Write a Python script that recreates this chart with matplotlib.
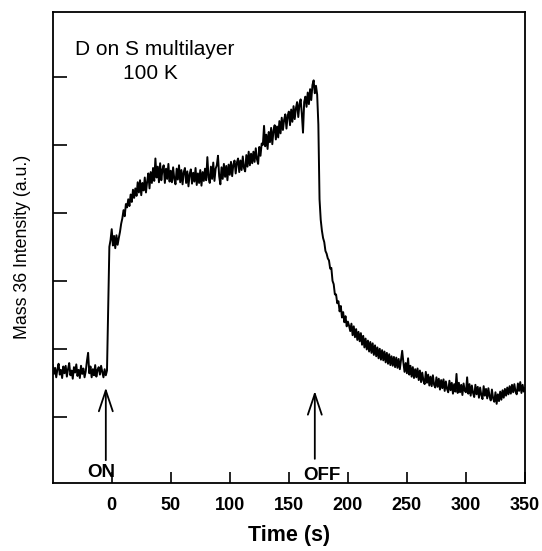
import numpy as np
import matplotlib
matplotlib.use("Agg")
import matplotlib.pyplot as plt

# Mass 36 signal, one reading per second, arbitrary units (tick spacing = 1)
time_before_on = np.arange(-50, 0)
signal_before_on = [
    1.76, 1.63, 1.72, 1.58, 1.70, 1.78, 1.62, 1.69, 1.57, 1.74,
    1.64, 1.75, 1.59, 1.70, 1.79, 1.61, 1.68, 1.56, 1.73, 1.65,
    1.77, 1.60, 1.69, 1.57, 1.75, 1.63, 1.71, 1.58, 1.67, 1.82,
    1.94, 1.64, 1.74, 1.58, 1.70, 1.61, 1.76, 1.59, 1.69, 1.73,
    1.62, 1.75, 1.66, 1.58, 1.70, 1.61, 1.68, 2.60, 3.50, 3.60,
]
time_dosing = np.arange(0, 175)
signal_dosing = [
    3.76, 3.52, 3.66, 3.48, 3.67, 3.53, 3.63, 3.72, 3.84, 3.92,
    4.04, 3.95, 4.13, 4.08, 4.20, 4.10, 4.27, 4.16, 4.34, 4.22,
    4.36, 4.25, 4.45, 4.30, 4.48, 4.26, 4.44, 4.33, 4.52, 4.30,
    4.46, 4.58, 4.36, 4.60, 4.44, 4.66, 4.47, 4.80, 4.52, 4.68,
    4.45, 4.73, 4.48, 4.64, 4.70, 4.44, 4.65, 4.50, 4.72, 4.46,
    4.62, 4.45, 4.67, 4.50, 4.42, 4.65, 4.49, 4.70, 4.45, 4.63,
    4.42, 4.60, 4.66, 4.44, 4.61, 4.39, 4.57, 4.64, 4.43, 4.59,
    4.46, 4.66, 4.41, 4.58, 4.44, 4.63, 4.40, 4.60, 4.47, 4.65,
    4.48, 4.82, 4.52, 4.44, 4.68, 4.50, 4.74, 4.47, 4.65, 4.70,
    4.84, 4.54, 4.42, 4.67, 4.50, 4.72, 4.53, 4.69, 4.48, 4.71,
    4.56, 4.75, 4.54, 4.71, 4.77, 4.58, 4.74, 4.80, 4.60, 4.77,
    4.63, 4.83, 4.66, 4.61, 4.85, 4.68, 4.90, 4.70, 4.87, 4.73,
    4.90, 4.75, 4.95, 4.79, 4.72, 4.97, 4.84, 5.02, 5.00, 5.28,
    4.98, 5.15, 4.94, 5.19, 5.04, 5.25, 5.01, 5.21, 5.29, 5.08,
    5.27, 5.11, 5.35, 5.17, 5.40, 5.22, 5.37, 5.45, 5.24, 5.43,
    5.49, 5.29, 5.52, 5.34, 5.57, 5.38, 5.54, 5.63, 5.41, 5.60,
    5.67, 5.46, 5.18, 5.63, 5.71, 5.56, 5.77, 5.60, 5.82, 5.66,
    5.88, 5.95, 5.76, 5.87, 5.74,
]
time_after_off = np.arange(175, 351)
signal_after_off = [
    5.30, 4.20, 3.90, 3.74, 3.63,
    3.57, 3.44, 3.40, 3.33, 3.30, 3.18, 3.19, 3.00, 2.95, 2.80,
    2.80, 2.67, 2.70, 2.55, 2.63, 2.46, 2.54, 2.39, 2.48, 2.33,
    2.40, 2.34, 2.26, 2.37, 2.20, 2.33, 2.17, 2.29, 2.13, 2.25,
    2.11, 2.23, 2.06, 2.19, 2.02, 2.15, 1.99, 2.12, 1.96, 2.10,
    1.94, 2.08, 1.91, 2.05, 1.89, 2.02, 1.86, 2.00, 1.84, 1.98,
    1.83, 1.96, 1.80, 1.94, 1.78, 1.92, 1.76, 1.89, 1.75, 1.88,
    1.73, 1.87, 1.72, 1.85, 1.70, 1.83, 1.97, 1.80, 1.66, 1.79,
    1.64, 1.86, 1.62, 1.75, 1.59, 1.73, 1.57, 1.70, 1.58, 1.71,
    1.54, 1.68, 1.51, 1.65, 1.53, 1.48, 1.66, 1.50, 1.62, 1.46,
    1.59, 1.45, 1.61, 1.47, 1.43, 1.58, 1.44, 1.56, 1.40, 1.54,
    1.42, 1.55, 1.38, 1.52, 1.41, 1.36, 1.53, 1.39, 1.50, 1.34,
    1.48, 1.37, 1.63, 1.35, 1.50, 1.36, 1.47, 1.32, 1.49, 1.38,
    1.36, 1.58, 1.34, 1.48, 1.31, 1.46, 1.35, 1.29, 1.47, 1.33,
    1.44, 1.28, 1.43, 1.32, 1.26, 1.45, 1.31, 1.41, 1.27, 1.42,
    1.30, 1.24, 1.40, 1.27, 1.22, 1.36, 1.19, 1.33, 1.23, 1.37,
    1.25, 1.39, 1.28, 1.41, 1.31, 1.43, 1.33, 1.45, 1.34, 1.47,
    1.36, 1.48, 1.37, 1.33, 1.49, 1.38, 1.51, 1.35, 1.47, 1.37,
    1.42,
]

x_ticks = [0, 50, 100, 150, 200, 250, 300, 350]
y_ticks = [1, 2, 3, 4, 5, 6]
t_on, t_off = -5, 172

time = np.concatenate([time_before_on, time_dosing, time_after_off])
signal = np.concatenate([signal_before_on, signal_dosing, signal_after_off])

plt.rcParams["font.family"] = ["Liberation Sans", "DejaVu Sans"]

fig = plt.figure(figsize=(5.42, 5.51), dpi=100)
ax = fig.add_axes([0.0972, 0.124, 0.8714, 0.8548])

ax.plot(time, signal, color="black", lw=1.4)

ax.set_xlim(-50, 350)
ax.set_ylim(0.03, 6.96)
ax.set_xticks(x_ticks)
ax.set_yticks(y_ticks)
ax.set_yticklabels([])
ax.tick_params(axis="x", direction="in", length=8, width=1.2, pad=10,
               labelsize=13)
ax.tick_params(axis="y", direction="in", length=10, width=1.2)
for lbl in ax.get_xticklabels():
    lbl.set_fontweight("bold")
for s in ax.spines.values():
    s.set_linewidth(1.3)

ax.set_xlabel("Time (s)", fontsize=15.5, fontweight="bold", labelpad=8)
ax.set_ylabel("Mass 36 Intensity (a.u.)", fontsize=12.8, labelpad=12)

# ON / OFF markers
arrow = dict(arrowstyle="->,head_length=1.5,head_width=0.5", lw=1.3, color="black")
ax.annotate("", xy=(t_on, 1.47), xytext=(t_on, 0.32), arrowprops=arrow)
ax.annotate("", xy=(t_off, 1.42), xytext=(t_off, 0.34), arrowprops=arrow)
ax.text(-9, 0.18, "ON", fontsize=13.5, fontweight="bold", ha="center", va="center")
ax.text(178, 0.14, "OFF", fontsize=13.5, fontweight="bold", ha="center", va="center")

ax.text(36, 6.4, "D on S multilayer", fontsize=15, ha="center", va="center")
ax.text(33, 6.05, "100 K", fontsize=15, ha="center", va="center")

fig.savefig("out.png", dpi=100)
